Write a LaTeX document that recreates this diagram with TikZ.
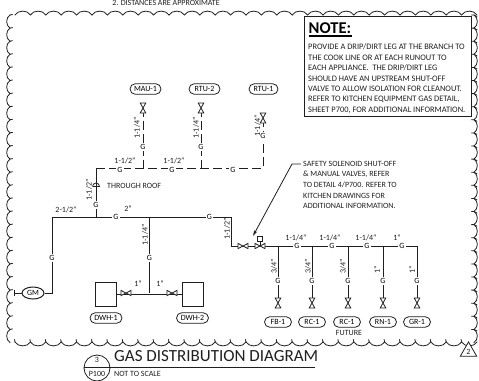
\documentclass[tikz,border=0pt]{standalone}
\usepackage{fontspec}
\setmainfont{Carlito}
\usetikzlibrary{shapes.misc,shapes.geometric,arrows.meta,calc}
\definecolor{ink}{gray}{0.12}
\newcommand{\lab}{\fontsize{8}{9}\selectfont}
\tikzset{
  x=1pt,y=-1pt,
  pipe/.style={line width=1pt,draw=ink},
  dpipe/.style={pipe,dash pattern=on 9pt off 4pt},
  cloud/.style={line width=0.8pt,draw=ink,line cap=round},
  pill/.style={rounded rectangle,draw=ink,line width=0.8pt,minimum height=10.5pt,minimum width=29pt,inner sep=1pt,font=\lab,fill=white},
  gmark/.style={fill=white,inner sep=1.2pt,font=\lab},
  txt/.style={inner sep=0pt,font=\lab,text=ink},
  note/.style={inner sep=0pt,anchor=west,font=\fontsize{8.4}{10}\selectfont,text=ink},
  tank/.style={draw=ink,line width=0.9pt,minimum width=21pt,minimum height=24pt,inner sep=0pt,fill=white},
  pics/valveh/.style={code={
    \draw[ink,line width=0.8pt,fill=white] (-5,-2.6)--(5,2.6)--(5,-2.6)--(-5,2.6)--cycle;}},
  pics/valvev/.style={code={
    \draw[ink,line width=0.8pt,fill=white] (-2.8,-5)--(2.8,5)--(-2.8,5)--(2.8,-5)--cycle;}},
}
\begin{document}
\begin{tikzpicture}
\useasboundingbox (0,0) rectangle (479,380);
\path[fill=white] (0,0) rectangle (479,380);
\begin{scope}
\clip (0,0) rectangle (479,380);
% revision cloud
\foreach \i in {0,...,29} {
  \draw[cloud] ({15+15.4*\i},15) to[bend left=60] ({15+15.4*(\i+1)},15);
  \draw[cloud] ({15+15.4*\i},342) to[bend right=60] ({15+15.4*(\i+1)},342);
  \draw[cloud] ({15+15.4*\i},342) -- ({15+15.4*\i-0.5},339.5);
}
\foreach \i in {0,...,24} {
  \draw[cloud] (10,{15+13.1*\i}) to[bend right=60] (10,{15+13.1*(\i+1)});
  \draw[cloud] (10,{15+13.1*\i}) -- (12.5,{15+13.1*\i-0.5});
  \draw[cloud] (474,{15+13.1*\i}) to[bend left=60] (474,{15+13.1*(\i+1)});
  \draw[cloud] (471.5,{15+13.1*\i}) -- (474,{15+13.1*\i}) -- (477,{15+13.1*\i+1.5});
}
\node[txt] (head) at (166,2.8) {2. DISTANCES ARE APPROXIMATE};
\end{scope}

% note box
\node[draw=ink,line width=1pt,fill=white,minimum width=167pt,minimum height=99.5pt,inner sep=0pt] (notebox) at (387.5,66.5) {};
\node[inner sep=0pt,anchor=west,font=\fontsize{16.5}{18}\bfseries\selectfont] (notetitle) at (308.5,28) {NOTE:};
\draw[line width=1.1pt] (308.5,36) -- (351.5,36);
\node[note] (n1) at (308,47) {PROVIDE A DRIP/DIRT LEG AT THE BRANCH TO};
\node[note] (n2) at (308,57.5) {THE COOK LINE OR AT EACH RUNOUT TO};
\node[note] (n3) at (308,68) {EACH APPLIANCE.\ \ THE DRIP/DIRT LEG};
\node[note] (n4) at (308,78.5) {SHOULD HAVE AN UPSTREAM SHUT-OFF};
\node[note] (n5) at (308,89) {VALVE TO ALLOW ISOLATION FOR CLEANOUT.};
\node[note] (n6) at (308,99.5) {REFER TO KITCHEN EQUIPMENT GAS DETAIL,};
\node[note] (n7) at (308,110) {SHEET P700, FOR ADDITIONAL INFORMATION.};

% coordinates
\coordinate (a0) at (96,217);
\coordinate (a1) at (96,168);
\coordinate (mauj) at (143,168);
\coordinate (rtu2j) at (201,168);
\coordinate (rtu1j) at (263,168);
\coordinate (mauv) at (143,108);
\coordinate (rtu2v) at (201,108);
\coordinate (rtu1v) at (263,118);
\coordinate (gmc) at (52,293);
\coordinate (m0) at (52,217);
\coordinate (m1) at (149,217);
\coordinate (m2) at (231,217);
\coordinate (m3) at (231,246);
\coordinate (wj) at (149,293);
\coordinate (vv1) at (243,246);
\coordinate (vv2) at (260,246);
\coordinate (b1) at (278,246);
\coordinate (b2) at (312,246);
\coordinate (b3) at (348,246);
\coordinate (b4) at (383,246);
\coordinate (b5) at (417,246);
\foreach \n/\x in {d1/278,d2/312,d3/348,d4/383,d5/417}{\coordinate (\n) at (\x,303);}

% equipment
\node[pill,minimum width=33pt] (mau) at (145.5,89) {MAU-1};
\node[pill,minimum width=33pt] (rtu2) at (204.5,89) {RTU-2};
\node[pill,minimum width=31pt] (rtu1) at (263.5,89) {RTU-1};
\node[pill] (fb) at (278,322) {FB-1};
\node[pill] (rc1) at (312,322) {RC-1};
\node[pill] (rc2) at (347,322) {RC-1};
\node[pill] (rn) at (383,322) {RN-1};
\node[pill] (gr) at (417,322) {GR-1};
\node[pill,minimum width=34pt] (dwh1) at (106,318) {DWH-1};
\node[pill,minimum width=34pt] (dwh2) at (192.5,318) {DWH-2};
\node[ellipse,draw=ink,line width=1pt,minimum width=22pt,minimum height=12pt,inner sep=0pt,font=\lab,fill=white] (gm) at (33,293) {GM};
\node[tank] (t1) at (105.5,294) {};
\node[tank] (t2) at (193,294) {};
\coordinate (gmtail) at (14,293);

% pipes
\draw[dpipe] (mauv) -- (mauj);
\draw[dpipe] (rtu2v) -- (rtu2j);
\draw[dpipe] (rtu1v) -- (rtu1j);
\draw[dpipe] (a1) -- (rtu1j);
\draw[pipe] (a0) -- (a1);
\draw[pipe] (gm) -- (gmc) -- (m0) -- (m2) -- (m3) -- (b5) -- (d5);
\draw[pipe] (m1) -- (wj);
\draw[pipe] (t1) -- (t2);
\draw[pipe] (b1) -- (d1);
\draw[pipe] (b2) -- (d2);
\draw[pipe] (b3) -- (d3);
\draw[pipe] (b4) -- (d4);
\draw[ink,line width=0.8pt] (gm) -- (gmtail);
\draw[ink,line width=0.8pt] ($(gmtail)+(0,-3)$) -- ($(gmtail)+(0,3)$);

% valves
\pic at (mauv) {valvev};
\pic at (rtu2v) {valvev};
\pic at (rtu1v) {valvev};
\pic at (d1) {valvev};
\pic at (d2) {valvev};
\pic at (d3) {valvev};
\pic at (d4) {valvev};
\pic at (d5) {valvev};
\pic at (126,293) {valveh};
\pic at (172,293) {valveh};
\pic at (vv1) {valveh};
\pic at (vv2) {valveh};
\draw[ink,line width=0.8pt] (vv2) -- (260,240);
\node[draw=ink,line width=0.8pt,fill=white,minimum size=4.5pt,inner sep=0pt] (sol) at (260,239) {};

% through-roof symbol
\draw[ink,line width=0.8pt] (92.5,186.5) arc[start angle=180,end angle=360,radius=3.5];
\draw[ink,line width=0.8pt] (92.5,186.5) -- (99.5,186.5);

% G marks
\foreach \n/\x/\y in {g1/120/170,g2/172/170,g3/233/170,g4/143/147,g5/201/147,g6/263/136,g7/96/205,g8/116/217,g9/209.5/217,g10/52/258,g11/149.5/258,g12/297/246,g13/332/246,g14/367/246,g15/402/246,g16/278/281,g17/312/281,g18/348/281,g19/383/281,g20/417/281}{
  \node[gmark] (\n) at (\x,\y) {G};
}
% size labels
\node[txt] (s1) at (125,161) {1-1/2"};
\node[txt] (s2) at (174,161) {1-1/2"};
\node[txt] (s3) at (66,210) {2-1/2"};
\node[txt] (s4) at (128,209) {2"};
\node[txt] (s5) at (138,284) {1"};
\node[txt] (s6) at (160,284) {1"};
\node[txt] (s7) at (296,238) {1-1/4"};
\node[txt] (s8) at (330,238) {1-1/4"};
\node[txt] (s9) at (366,238) {1-1/4"};
\node[txt] (s10) at (397,238) {1"};
\node[txt,rotate=90] (r1) at (137,128) {1-1/4"};
\node[txt,rotate=90] (r2) at (196,128) {1-1/4"};
\node[txt,rotate=90] (r3) at (257.5,126) {1-1/4"};
\node[txt,rotate=90] (r4) at (89,190) {1-1/2"};
\node[txt,rotate=90] (r5) at (145,235) {1-1/4"};
\node[txt,rotate=90] (r6) at (227,229) {1-1/2"};
\node[txt,rotate=90] (r7) at (274,266) {3/4"};
\node[txt,rotate=90] (r8) at (308,266) {3/4"};
\node[txt,rotate=90] (r9) at (343,266) {3/4"};
\node[txt,rotate=90] (r10) at (377,270) {1"};
\node[txt,rotate=90] (r11) at (412,270) {1"};
\node[txt,anchor=west] (roof) at (107,186) {THROUGH ROOF};
\node[txt] (fut) at (349,333) {FUTURE};

% leader note
\node[note,font=\lab] (sf1) at (303,164) {SAFETY SOLENOID SHUT-OFF};
\node[note,font=\lab] (sf2) at (303,174.5) {\&\ MANUAL VALVES, REFER};
\node[note,font=\lab] (sf3) at (303,185) {TO DETAIL 4/P700. REFER TO};
\node[note,font=\lab] (sf4) at (303,195.5) {KITCHEN DRAWINGS FOR};
\node[note,font=\lab] (sf5) at (303,206) {ADDITIONAL INFORMATION.};
\coordinate (tip) at (253,236);
\draw[ink,line width=0.8pt,-{Stealth[length=6pt,width=3.5pt]}] (sf1.west) ++(-2,0) -- (292,164) -- (tip);

% title
\node[circle,draw=ink,line width=0.8pt,minimum size=26pt,inner sep=0pt] (bub) at (97,368) {};
\draw[line width=1pt,draw=ink] (bub.west |- 0,367) -- (315,367);
\node[txt] (bub3) at (97,360) {3};
\node[txt] (bubp) at (97,374) {P100};
\node[inner sep=0pt,anchor=west,font=\fontsize{17}{20}\selectfont,text=ink] (title) at (114,356) {GAS DISTRIBUTION DIAGRAM};
\node[txt,anchor=west] (nts) at (114,373.5) {NOT TO SCALE};
% revision triangle
\node[regular polygon,regular polygon sides=3,draw=ink,line width=0.8pt,fill=white,minimum size=19pt,inner sep=0pt] (rev) at (468.5,351.5) {};
\node[txt] (rev2) at (468.5,351.5) {2};
\end{tikzpicture}
\end{document}
